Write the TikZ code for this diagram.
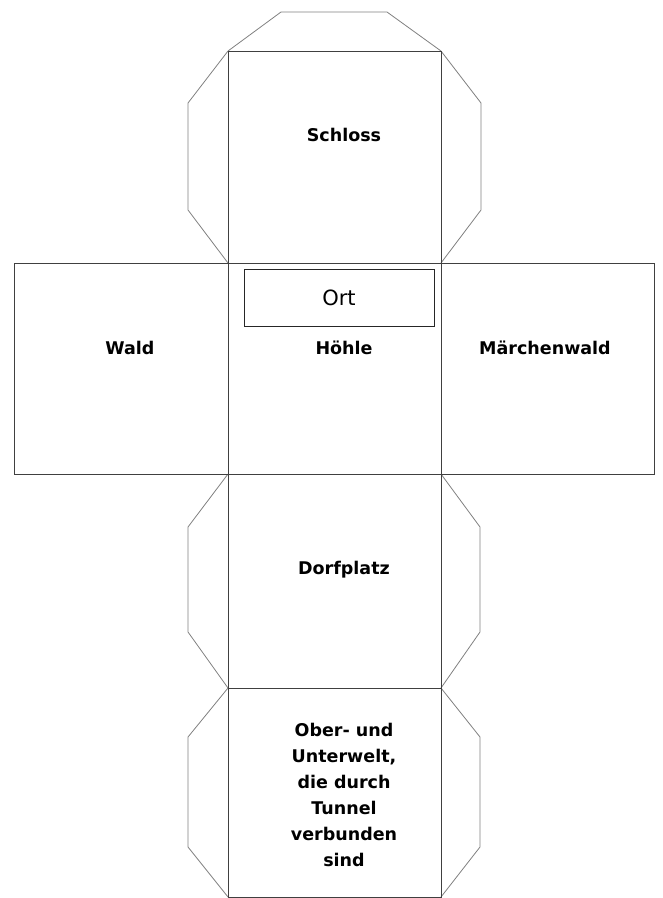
\documentclass[tikz,border=0pt]{standalone}
\usepackage{fontspec}
\setmainfont{DejaVu Sans}
\tikzset{
    face/.style={draw=black!75, line width=0.9pt},
    flap/.style={draw=black!50, line width=0.8pt, line join=round},
    facetext/.style={font=\fontsize{17.5}{26}\selectfont\bfseries, align=center},
    ortbox/.style={draw=black!85, line width=0.9pt, minimum width=190pt, minimum height=57pt,
        font=\fontsize{21}{24}\selectfont},
}
\begin{document}
\begin{tikzpicture}[x=1pt, y=-1pt]
    \useasboundingbox (0, 0) rectangle (663, 898);
    % flaps
    \draw[flap] (228, 51) -- (281, 12) -- (387, 12) -- (441, 51);
    \draw[flap] (228, 51) -- (188, 103) -- (188, 210) -- (228, 263);
    \draw[flap] (441, 51) -- (481, 103) -- (481, 210) -- (441, 263);
    \draw[flap] (228, 474) -- (188, 527) -- (188, 632) -- (228, 688);
    \draw[flap] (441, 474) -- (480, 527) -- (480, 632) -- (441, 688);
    \draw[flap] (228, 688) -- (188, 737) -- (188, 847) -- (228, 897);
    \draw[flap] (441, 688) -- (480, 737) -- (480, 847) -- (441, 897);
    % faces
    \draw[face] (228, 51) rectangle (441, 263);
    \draw[face] (14, 263) rectangle (228, 474);
    \draw[face] (228, 263) rectangle (441, 474);
    \draw[face] (441, 263) rectangle (654, 474);
    \draw[face] (228, 474) rectangle (441, 688);
    \draw[face] (228, 688) rectangle (441, 897);
    % header
    \node[ortbox] (ort) at (339, 298) {Ort};
    % labels
    \node[facetext] (schloss) at (344, 135) {Schloss};
    \node[facetext] (wald) at (130, 348) {Wald};
    \node[facetext] (hoehle) at (344, 348) {Höhle};
    \node[facetext] (maerchenwald) at (545, 348) {Märchenwald};
    \node[facetext] (dorfplatz) at (344, 570) {Dorfplatz};
    \node[facetext] (unterwelt) at (344, 795) {Ober- und\\Unterwelt,\\die durch\\Tunnel\\verbunden\\sind};
\end{tikzpicture}
\end{document}
